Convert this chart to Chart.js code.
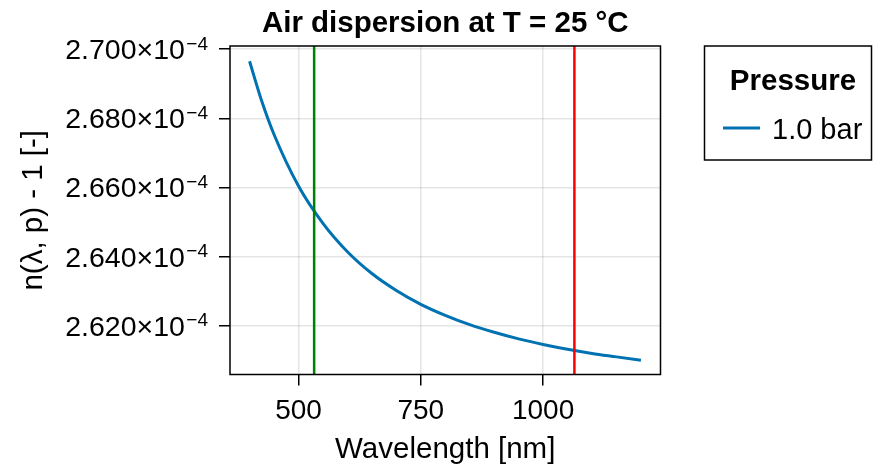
<!DOCTYPE html>
<html>
<head>
<meta charset="utf-8">
<title>Air dispersion</title>
<script src="https://cdn.jsdelivr.net/npm/chart.js@4.4.1/dist/chart.umd.min.js"></script>
<style>
    html, body { margin: 0; padding: 0; background: #fff; }
    #wrap { position: relative; width: 873px; height: 468px; }
</style>
</head>
<body>
<div id="wrap"><canvas id="dispersionChart" width="873" height="468"></canvas></div>
<script>
// Wavelength samples [nm]
const wavelengths = [400, 425, 450, 500, 550, 600, 650, 700, 750, 800, 850, 900, 950, 1000, 1050, 1100, 1150, 1200];
// n(lambda, p) - 1 at 1.0 bar
const refractivity = [2.6965e-4, 2.6849e-4, 2.6753e-4, 2.6604e-4, 2.6496e-4, 2.6414e-4, 2.6351e-4, 2.6302e-4,
                      2.6262e-4, 2.6230e-4, 2.6203e-4, 2.6181e-4, 2.6162e-4, 2.6146e-4, 2.6132e-4, 2.6120e-4,
                      2.6110e-4, 2.6100e-4];
const seriesLabel = '1.0 bar';
const legendTitle = 'Pressure';
// Laser lines [nm]
const laserLines = [532, 1064];
const laserColors = ['#008000', '#ff0000'];
// Axis ticks and limits
const xTicks = [500, 750, 1000];
const yTicks = [2.62e-4, 2.64e-4, 2.66e-4, 2.68e-4, 2.70e-4];
const xRange = [360, 1240];
const yRange = [2.6059e-4, 2.7009e-4];

const FONT = '"Liberation Sans", Arial, Helvetica, sans-serif';
Chart.defaults.font.family = FONT;
Chart.defaults.color = '#000';

const curveColor = '#0072b2';
const gridColor = 'rgba(0,0,0,0.1)';

// vertical lines first so they sit on top of the curve
const datasets = laserLines.map((wl, i) => ({
    label: wl + ' nm',
    data: [{ x: wl, y: yRange[0] }, { x: wl, y: yRange[1] }],
    borderColor: laserColors[i],
    borderWidth: 2.5,
    pointRadius: 0,
    order: 0
}));
datasets.push({
    label: seriesLabel,
    data: wavelengths.map((w, i) => ({ x: w, y: refractivity[i] })),
    borderColor: curveColor,
    borderWidth: 3,
    pointRadius: 0,
    cubicInterpolationMode: 'monotone',
    order: 1
});

// Box around the plot area (all four spines)
const frame = {
    id: 'frame',
    afterDatasetsDraw(chart) {
        const { ctx, chartArea: a } = chart;
        ctx.save();
        ctx.strokeStyle = '#000';
        ctx.lineWidth = 1.5;
        ctx.strokeRect(a.left, a.top, a.right - a.left, a.bottom - a.top);
        ctx.restore();
    }
};

// y tick labels as mantissa x 10^-4 with a raised exponent
const yLabels = {
    id: 'yLabels',
    afterDraw(chart) {
        const { ctx } = chart;
        const y = chart.scales.y;
        const right = 208;
        ctx.save();
        ctx.fillStyle = '#000';
        ctx.textBaseline = 'alphabetic';
        ctx.textAlign = 'right';
        y.ticks.forEach(t => {
            const py = y.getPixelForValue(t.value);
            const mant = (t.value * 1e4).toFixed(3);
            ctx.font = '19px ' + FONT;
            const exp = '\u22124';
            const ew = ctx.measureText(exp).width;
            ctx.fillText(exp, right, py + 0.5);
            ctx.font = '28.5px ' + FONT;
            ctx.fillText(mant + '\u00d710', right - ew - 1.5, py + 10);
        });
        ctx.restore();
    }
};

// Boxed legend on the right
const boxLegend = {
    id: 'boxLegend',
    afterDraw(chart) {
        const { ctx } = chart;
        const ds = chart.data.datasets.find(d => d.label === seriesLabel);
        ctx.save();
        ctx.strokeStyle = '#000';
        ctx.lineWidth = 1.5;
        ctx.strokeRect(704.5, 46, 167, 114);
        ctx.fillStyle = '#000';
        ctx.textBaseline = 'alphabetic';
        ctx.textAlign = 'center';
        ctx.font = 'bold 29.5px ' + FONT;
        ctx.fillText(legendTitle, 793, 90);
        ctx.strokeStyle = ds.borderColor;
        ctx.lineWidth = ds.borderWidth;
        ctx.beginPath();
        ctx.moveTo(723, 128);
        ctx.lineTo(760, 128);
        ctx.stroke();
        ctx.textAlign = 'left';
        ctx.font = '29px ' + FONT;
        ctx.fillText(ds.label, 772, 139);
        ctx.restore();
    }
};

const ctx = document.getElementById('dispersionChart').getContext('2d');
const dispersionChart = new Chart(ctx, {
    type: 'line',
    data: { datasets: datasets },
    options: {
        responsive: false,
        animation: false,
        layout: { padding: { left: 0, right: 212.5, top: 0, bottom: 0 } },
        plugins: {
            legend: { display: false },
            tooltip: { enabled: false },
            title: {
                display: true,
                fullSize: false,
                text: 'Air dispersion at T = 25 \u00b0C',
                color: '#000',
                font: { size: 29.5, weight: 'bold' },
                padding: { top: 6.5, bottom: 4.1 }
            }
        },
        scales: {
            x: {
                type: 'linear',
                min: xRange[0],
                max: xRange[1],
                afterBuildTicks: s => { s.ticks = xTicks.map(v => ({ value: v })); },
                afterFit: s => { s.height = 93.5; },
                border: { display: false },
                grid: {
                    color: gridColor,
                    lineWidth: 1.5,
                    drawTicks: true,
                    tickLength: 11,
                    tickColor: '#000',
                    tickWidth: 1.5
                },
                ticks: {
                    font: { size: 28 },
                    color: '#000',
                    padding: 9,
                    maxRotation: 0,
                    callback: v => String(v)
                },
                title: {
                    display: true,
                    text: 'Wavelength [nm]',
                    font: { size: 29.5 },
                    color: '#000',
                    padding: { top: 0, bottom: 0 }
                }
            },
            y: {
                type: 'linear',
                min: yRange[0],
                max: yRange[1],
                afterBuildTicks: s => { s.ticks = yTicks.map(v => ({ value: v })); },
                afterFit: s => { s.width = 230; },
                border: { display: false },
                grid: {
                    color: gridColor,
                    lineWidth: 1.5,
                    drawTicks: true,
                    tickLength: 11,
                    tickColor: '#000',
                    tickWidth: 1.5
                },
                ticks: { display: false },
                title: {
                    display: true,
                    text: 'n(\u03bb, p) - 1 [-]',
                    font: { size: 29.5 },
                    color: '#000',
                    padding: { top: 16, bottom: 0 }
                }
            }
        }
    },
    plugins: [frame, yLabels, boxLegend]
});
</script>
</body>
</html>
